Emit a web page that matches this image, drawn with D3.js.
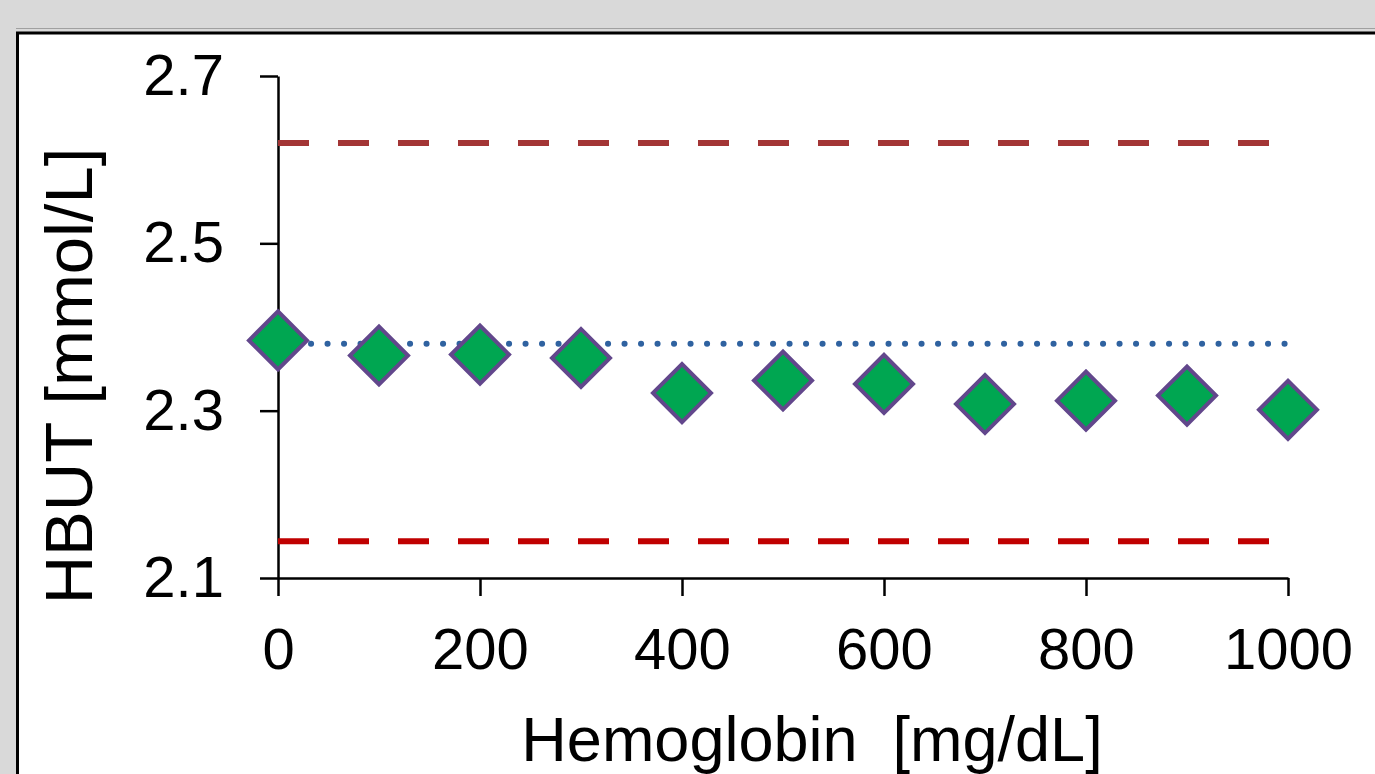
<!DOCTYPE html>
<html>
<head>
<meta charset="utf-8">
<script src="https://cdn.jsdelivr.net/npm/d3@7"></script>
<style>
  body { margin: 0; background: #d9d9d9; }
  svg { display: block; }
  text { font-family: "Liberation Sans", Arial, sans-serif; fill: #000; }
</style>
</head>
<body>
<script>
// values
const hemoglobin = [0, 100, 200, 300, 400, 500, 600, 700, 800, 900, 1000];
const hbut = [2.384, 2.366, 2.367, 2.363, 2.321, 2.336, 2.332, 2.308, 2.312, 2.318, 2.301];
const upperLimit = 2.62;
const lowerLimit = 2.144;
const baseline = 2.38;
const xTicks = [0, 200, 400, 600, 800, 1000];
const yTicks = [2.1, 2.3, 2.5, 2.7];

const width = 1375, height = 774;

const svg = d3.select("body").append("svg")
    .attr("width", width)
    .attr("height", height);

// chart panel (runs off the right and bottom edge)
svg.append("line")
    .attr("x1", 16).attr("x2", width)
    .attr("y1", 28.5).attr("y2", 28.5)
    .attr("stroke", "#a0a0a0").attr("stroke-width", 1);
svg.append("rect")
    .attr("x", 17.5).attr("y", 33)
    .attr("width", 1400).attr("height", 800)
    .attr("fill", "#fff")
    .attr("stroke", "#000")
    .attr("stroke-width", 3);

const x = d3.scaleLinear().domain([0, 1000]).range([278, 1288]);
const y = d3.scaleLinear().domain([2.1, 2.7]).range([578, 76]);

// axes
const yAxis = svg.append("g")
    .attr("transform", `translate(${x(0)},0)`)
    .call(d3.axisLeft(y).tickValues(yTicks).tickFormat(d3.format(".1f"))
        .tickSize(18).tickSizeOuter(0).tickPadding(36));
const xAxis = svg.append("g")
    .attr("transform", `translate(0,${y(2.1)})`)
    .call(d3.axisBottom(x).tickValues(xTicks).tickFormat(d3.format("d"))
        .tickSize(18).tickSizeOuter(0).tickPadding(32));

[xAxis, yAxis].forEach(g => {
    g.selectAll("path, line").attr("stroke", "#000").attr("stroke-width", 2.5);
    g.selectAll("text").attr("font-size", 58)
        .attr("font-family", "'Liberation Sans', Arial, sans-serif");
});

// reference lines
svg.append("line")
    .attr("x1", x(0)).attr("x2", x(1000))
    .attr("y1", y(upperLimit)).attr("y2", y(upperLimit))
    .attr("stroke", "#a33535").attr("stroke-width", 6)
    .attr("stroke-dasharray", "31,29");

svg.append("line")
    .attr("x1", x(0)).attr("x2", x(1000))
    .attr("y1", y(lowerLimit)).attr("y2", y(lowerLimit))
    .attr("stroke", "#c00000").attr("stroke-width", 6)
    .attr("stroke-dasharray", "31,29");

svg.append("line")
    .attr("x1", x(0)).attr("x2", x(1000))
    .attr("y1", y(baseline)).attr("y2", y(baseline))
    .attr("stroke", "#2f62a0").attr("stroke-width", 6)
    .attr("stroke-linecap", "round")
    .attr("stroke-dasharray", "0.1,16.4");

// diamonds
const diamond = d3.symbol().type(d3.symbolSquare).size(41 * 41);
svg.append("g").selectAll("path")
    .data(hemoglobin)
    .join("path")
    .attr("d", diamond)
    .attr("transform", (d, i) => `translate(${x(d)},${y(hbut[i])}) rotate(45)`)
    .attr("fill", "#00a651")
    .attr("stroke", "#62478c")
    .attr("stroke-width", 4);

// titles
svg.append("text")
    .attr("x", 812).attr("y", 761)
    .attr("text-anchor", "middle")
    .attr("font-size", 63)
    .style("white-space", "pre")
    .text("Hemoglobin  [mg/dL]");

svg.append("text")
    .attr("transform", "translate(92,376) rotate(-90)")
    .attr("text-anchor", "middle")
    .attr("font-size", 67)
    .text("HBUT [mmol/L]");
</script>
</body>
</html>
